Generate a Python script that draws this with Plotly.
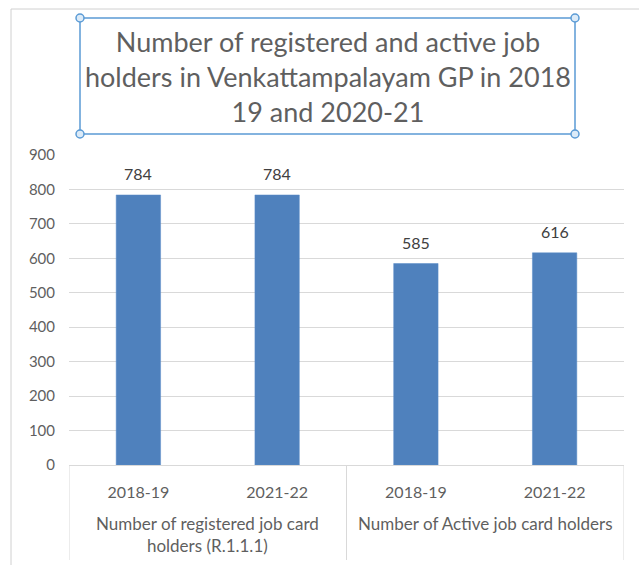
import plotly.graph_objects as go

# data
groups = ["Number of registered job card<br>holders (R.1.1.1)", "Number of Active job card holders"]
years = ["2018-19", "2021-22"]
values = [784, 784, 585, 616]

title = "Number of registered and active job<br>holders in Venkattampalayam GP in 2018<br>19 and 2020-21"

W, H = 639, 565
L, R, T, B = 69, 15, 155, 100
pw, ph = W - L - R, H - T - B

def px_x(p):  # pixel -> paper x
    return (p - L) / pw

def px_y(p):  # pixel -> paper y
    return (H - B - p) / ph

xs = list(range(len(values)))
ticktext = [y for g in groups for y in years]

fig = go.Figure()
fig.add_trace(go.Bar(x=xs, y=values, width=0.32,
                     marker=dict(color="#4F81BD", line=dict(color="#5B8DC8", width=0.5)),
                     hoverinfo="y"))

gray = "#5F5F5F"
fnt = "Lato, 'Open Sans', sans-serif"

# data labels
for x, v in zip(xs, values):
    fig.add_annotation(x=x, y=v, text=str(v), showarrow=False, yanchor="bottom",
                       yshift=10, font=dict(size=16, color="#404040", family=fnt))

# group labels and divider lines of the category box
n = len(years)
for i, g in enumerate(groups):
    fig.add_annotation(x=i * n + (n - 1) / 2, y=px_y(511), yref="paper", text=g,
                       showarrow=False, yanchor="top", font=dict(size=17, color=gray, family=fnt))
for k in range(len(groups) + 1):
    fig.add_shape(type="line", xref="x", yref="paper", x0=k * n - 0.5, x1=k * n - 0.5,
                  y0=0, y1=px_y(560), line=dict(color="#D9D9D9", width=1))

# chart area border (left and top)
fig.add_shape(type="line", xref="paper", yref="paper", x0=px_x(11), x1=px_x(11),
              y0=px_y(9), y1=px_y(566), line=dict(color="#D0D0D0", width=1))
fig.add_shape(type="line", xref="paper", yref="paper", x0=px_x(11), x1=px_x(640),
              y0=px_y(9), y1=px_y(9), line=dict(color="#D0D0D0", width=1))

# selected title box with handles
bx0, bx1, by0, by1 = 80, 575, 18, 134
blue = "#5B9BD5"
fig.add_shape(type="rect", xref="paper", yref="paper", x0=px_x(bx0), x1=px_x(bx1),
              y0=px_y(by1), y1=px_y(by0), line=dict(color=blue, width=1.5))
r = 4
for cx in (bx0, bx1):
    for cy in (by0, by1):
        fig.add_shape(type="circle", xref="paper", yref="paper",
                      x0=px_x(cx - r), x1=px_x(cx + r), y0=px_y(cy + r), y1=px_y(cy - r),
                      line=dict(color=blue, width=1.5), fillcolor="#DCEBF8")

fig.add_annotation(x=px_x((bx0 + bx1) / 2), y=px_y(77), xref="paper", yref="paper",
                   text=title, showarrow=False, align="center", yanchor="middle",
                   font=dict(size=27, color=gray, family=fnt))

fig.update_layout(
    width=W, height=H, margin=dict(l=L, r=R, t=T, b=B, pad=0),
    paper_bgcolor="white", plot_bgcolor="white", showlegend=False,
    font=dict(family=fnt, color=gray, size=16),
    xaxis=dict(range=[-0.5, len(values) - 0.5], tickvals=xs, ticktext=ticktext,
               showgrid=False, zeroline=False, showline=True, linecolor="#D9D9D9",
               ticks="outside", ticklen=13, tickcolor="rgba(0,0,0,0)",
               tickfont=dict(size=16, color=gray, family=fnt)),
    yaxis=dict(range=[0, 900], dtick=100, showgrid=True, gridcolor="#D9D9D9",
               zeroline=False, showline=False, ticks="outside", ticklen=10,
               tickcolor="rgba(0,0,0,0)", tickfont=dict(size=15, color=gray, family=fnt)),
)

fig.write_html("out.html", config={"displayModeBar": False},
               post_script="document.body.style.margin='0';")
